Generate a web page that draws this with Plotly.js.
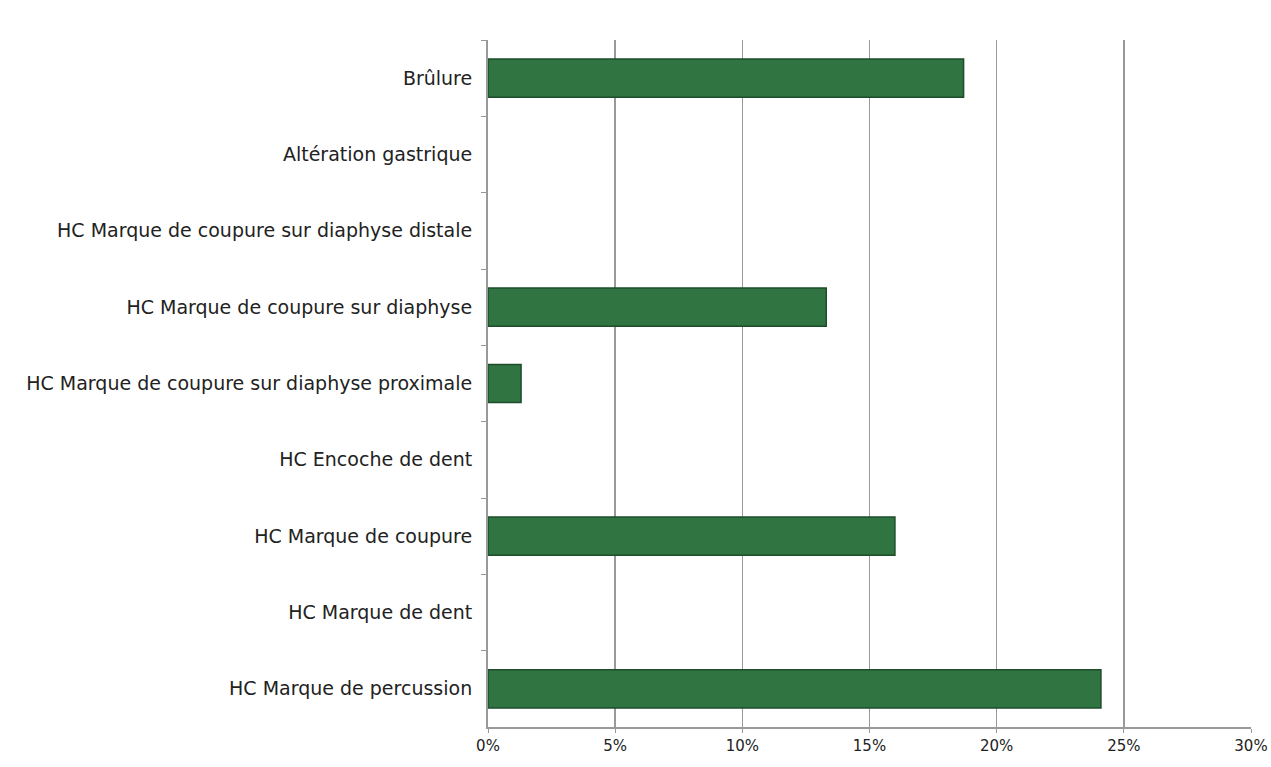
<!DOCTYPE html>
<html><head><meta charset="utf-8">
<script src="https://cdn.plot.ly/plotly-3.0.1.min.js"></script>
<style>html,body{margin:0;padding:0;background:#fff}#chart{width:1271px;height:767px}</style>
</head><body><div id="chart"></div>
<script>
const categories = [
  "Brûlure",
  "Altération gastrique",
  "HC Marque de coupure sur diaphyse distale",
  "HC Marque de coupure sur diaphyse",
  "HC Marque de coupure sur diaphyse proximale",
  "HC Encoche de dent",
  "HC Marque de coupure",
  "HC Marque de dent",
  "HC Marque de percussion"
];
const values = [18.7, 0, 0, 13.3, 1.3, 0, 16.0, 0, 24.1];
const xTickVals = [0, 5, 10, 15, 20, 25, 30];
const xTickText = ["0%", "5%", "10%", "15%", "20%", "25%", "30%"];

const trace = {
  type: "bar",
  orientation: "h",
  y: categories,
  x: values,
  marker: {color: "#2f7441", line: {color: "#1e4d2b", width: values.map(v => v > 0 ? 1.5 : 0)}},
  hoverinfo: "x+y"
};
const layout = {
  width: 1271, height: 767,
  margin: {l: 488, r: 20, t: 40, b: 40},
  paper_bgcolor: "#fff", plot_bgcolor: "#fff",
  showlegend: false,
  bargap: 0.5,
  font: {family: "'DejaVu Sans', sans-serif", size: 19, color: "#222"},
  xaxis: {
    range: [0, 30], tickvals: xTickVals, ticktext: xTickText,
    showgrid: true, gridcolor: "#999", gridwidth: 1.5,
    zeroline: false, showline: true, linecolor: "#999", linewidth: 2,
    ticks: "outside", ticklen: 4, tickcolor: "#999",
    tickfont: {size: 15, color: "#222"}, fixedrange: true
  },
  yaxis: {
    type: "category", autorange: "reversed",
    showgrid: false, showline: true, linecolor: "#999", linewidth: 2,
    ticks: "outside", tickson: "boundaries", ticklen: 5, tickcolor: "#999",
    ticklabelstandoff: 10,
    tickfont: {size: 19, color: "#222"}, fixedrange: true
  }
};
Plotly.newPlot("chart", [trace], layout, {displayModeBar: false, staticPlot: true});
</script></body></html>
